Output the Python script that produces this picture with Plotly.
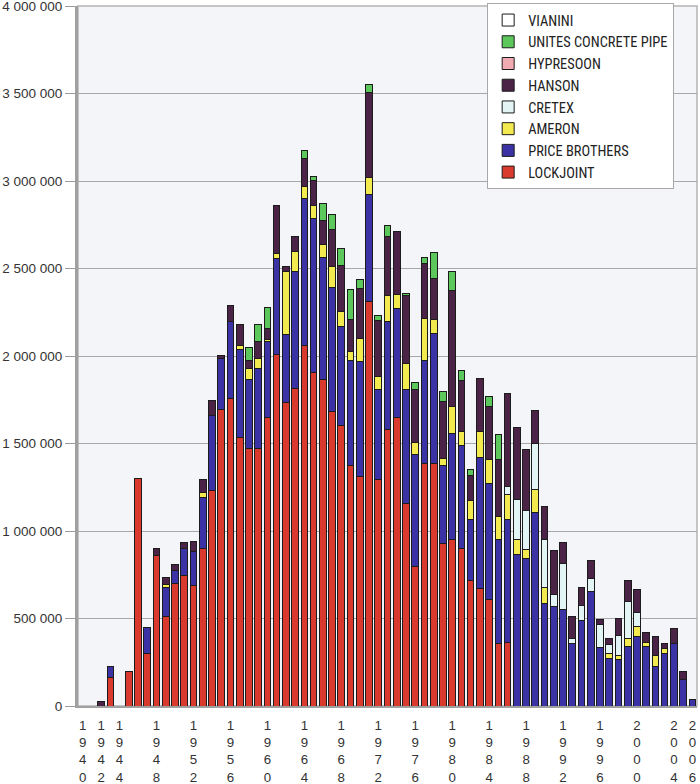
import plotly.graph_objects as go

years = list(range(1940, 2007))

# values in thousands, one entry per year 1940..2006
lockjoint = [0, 0, 0, 165, 0, 200, 1300, 300, 860, 510,
             700, 747, 689, 900, 1231, 1694, 1759, 1532, 1474, 1474,
             1651, 2006, 1733, 1812, 2060, 1905, 1867, 1681, 1605, 1372,
             1309, 2309, 1293, 1581, 1647, 1158, 798, 1386, 1386, 930,
             949, 901, 720, 669, 606, 358, 362, 0, 0, 0,
             0, 0, 0, 0, 0, 0, 0, 0, 0, 0,
             0, 0, 0, 0, 0, 0, 0]
price_brothers = [0, 0, 0, 60, 0, 0, 0, 150, 0, 168,
                  72, 151, 195, 290, 431, 291, 441, 507, 392, 457,
                  431, 550, 392, 669, 841, 880, 698, 710, 565, 600,
                  658, 612, 516, 619, 623, 651, 639, 586, 742, 447,
                  609, 590, 343, 752, 663, 594, 701, 863, 844, 1105,
                  587, 568, 549, 360, 491, 653, 335, 272, 267, 339,
                  400, 339, 225, 301, 358, 149, 38]
ameron = [0, 0, 0, 0, 0, 0, 0, 0, 0, 15,
          0, 0, 0, 30, 0, 0, 0, 21, 65, 54,
          10, 32, 356, 118, 65, 77, 70, 121, 86, 51,
          133, 98, 75, 144, 81, 151, 70, 244, 81, 38,
          152, 77, 110, 147, 137, 130, 143, 89, 51, 133,
          91, 0, 0, 0, 0, 0, 0, 29, 24, 48,
          53, 25, 66, 29, 0, 0, 0]
cretex = [0, 0, 0, 0, 0, 0, 0, 0, 0, 0,
          0, 0, 0, 0, 0, 0, 0, 0, 0, 0,
          0, 0, 0, 0, 0, 0, 0, 0, 0, 0,
          0, 0, 0, 0, 0, 0, 0, 0, 0, 0,
          0, 0, 0, 0, 0, 0, 47, 229, 221, 263,
          274, 72, 267, 26, 86, 77, 128, 48, 111, 213,
          82, 0, 0, 0, 0, 0, 0]
hanson = [0, 0, 25, 0, 0, 0, 0, 0, 40, 42,
          39, 36, 56, 72, 86, 18, 87, 119, 43, 97,
          65, 274, 32, 82, 161, 143, 139, 209, 263, 186,
          286, 488, 321, 337, 361, 384, 302, 314, 233, 324,
          667, 291, 147, 304, 304, 324, 534, 411, 351, 185,
          187, 248, 120, 128, 101, 99, 32, 38, 97, 120,
          132, 57, 109, 28, 84, 47, 0]
hypresoon = [0] * 67
unites_concrete_pipe = [0, 0, 0, 0, 0, 0, 0, 0, 0, 0,
                        0, 0, 0, 0, 0, 0, 0, 0, 76, 97,
                        119, 0, 0, 0, 48, 22, 100, 88, 93, 170,
                        51, 46, 28, 63, 0, 12, 42, 35, 151, 57,
                        105, 57, 32, 0, 61, 148, 0, 0, 0, 0,
                        0, 0, 0, 0, 0, 0, 0, 0, 0, 0,
                        0, 0, 0, 0, 0, 0, 0]
vianini = [0] * 67

series = [
    ("LOCKJOINT", lockjoint, "#DA3A2D"),
    ("PRICE BROTHERS", price_brothers, "#3B33A5"),
    ("AMERON", ameron, "#F2EA4E"),
    ("CRETEX", cretex, "#E2F4F4"),
    ("HANSON", hanson, "#4A2347"),
    ("HYPRESOON", hypresoon, "#F2AAB2"),
    ("UNITES CONCRETE PIPE", unites_concrete_pipe, "#5CC85C"),
    ("VIANINI", vianini, "#FFFFFF"),
]

tick_years = [1940, 1942, 1944, 1948, 1952, 1956, 1960, 1964, 1968, 1972, 1976, 1980, 1984, 1988,
              1992, 1996, 2000, 2004, 2006]
y_ticks = [0, 500000, 1000000, 1500000, 2000000, 2500000, 3000000, 3500000, 4000000]

fig = go.Figure()
for name, vals, color in series:
    fig.add_trace(go.Bar(
        x=years,
        y=[v * 1000 if v else None for v in vals],
        name=name,
        legendgroup=name,
        marker=dict(color=color, line=dict(color="#1c1c1c", width=1)),
        width=0.72,
    ))

fig.update_layout(
    width=700, height=784,
    margin=dict(l=78, r=3, t=6, b=78, autoexpand=False),
    barmode="stack",
    paper_bgcolor="white",
    plot_bgcolor="#F3F5F8",
    font=dict(family="Liberation Sans, Arial, sans-serif", color="#333333"),
    legend=dict(
        x=0.661, y=1.004, xanchor="left", yanchor="top",
        traceorder="reversed",
        bgcolor="white", bordercolor="#A8A8A8", borderwidth=1,
        font=dict(family="Liberation Sans Narrow, Arial Narrow, Roboto Condensed, Liberation Sans, sans-serif",
                  size=14.4, color="#222222"),
        itemwidth=30,
        tracegroupgap=0,
    ),
)

fig.update_xaxes(
    range=[1939.5, 2006.5],
    automargin=False,
    tickvals=tick_years,
    ticktext=["<br>".join(str(y)) for y in tick_years],
    tickangle=0,
    ticks="",
    ticklabelstandoff=6,
    tickfont=dict(size=13.3, family="Liberation Sans, Arial, sans-serif", color="#333333"),
    showgrid=False,
    showline=True, linecolor="#A0A0A0", linewidth=1.5,
    zeroline=False,
)
fig.update_yaxes(
    range=[0, 4000000],
    automargin=False,
    tickvals=y_ticks,
    ticktext=["{:,}".format(v).replace(",", " ") for v in y_ticks],
    ticks="outside", ticklen=10, tickcolor="#9A9A9A", tickwidth=1,
    ticklabelstandoff=0,
    ticklabeloverflow="allow",
    tickfont=dict(size=13.5, family="Liberation Sans, Arial, sans-serif", color="#333333"),
    showgrid=True, gridcolor="#A8A8A8", gridwidth=1,
    showline=True, linecolor="#A0A0A0", linewidth=3,
    zeroline=False,
)

fig.add_shape(type="rect", xref="paper", yref="paper", x0=0, x1=1, y0=0, y1=1,
              line=dict(color="#B4B4B4", width=1.5), fillcolor="rgba(0,0,0,0)", layer="below")

fig.write_html("out.html")
